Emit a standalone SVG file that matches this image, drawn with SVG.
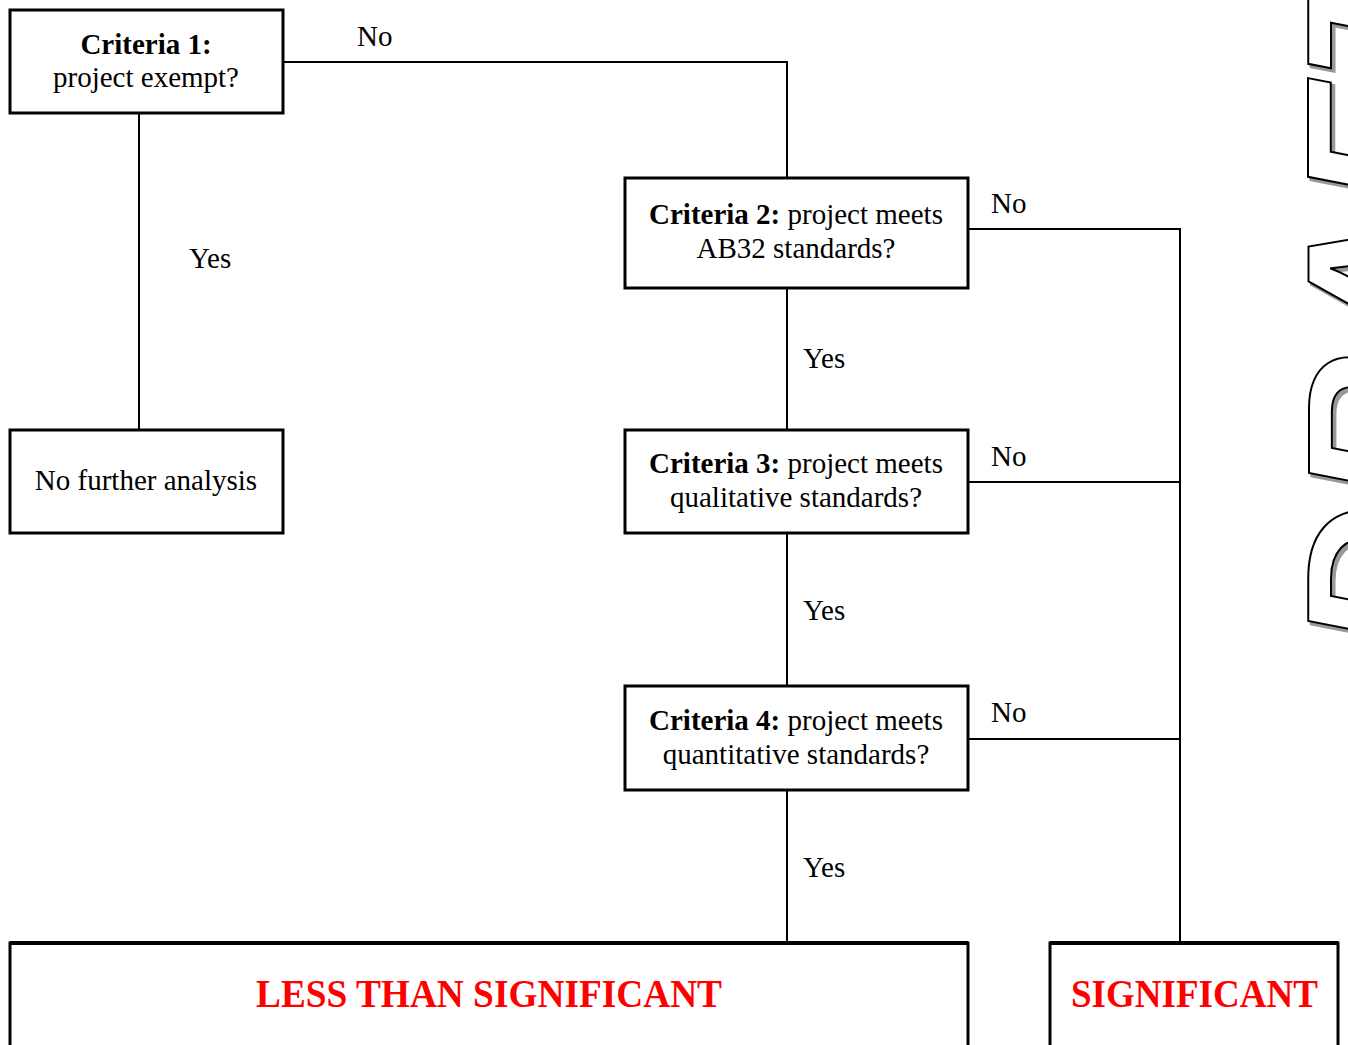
<svg xmlns="http://www.w3.org/2000/svg" width="1348" height="1045" viewBox="0 0 1348 1045">
<style>
.box{fill:#fff;stroke:#000;stroke-width:3}
.t{font-family:"Liberation Serif","Times New Roman",serif;font-size:29px;fill:#000}
.b{font-weight:bold}
.c{fill:none;stroke:#000;stroke-width:2}
.red{font-family:"Liberation Serif","Times New Roman",serif;font-weight:bold;font-size:40px;fill:#ff0000}
.wm{font-family:"Liberation Sans",Arial,sans-serif;font-weight:bold;font-style:italic;font-size:205px}
</style>
<rect width="1348" height="1045" fill="#fff"/>
<g id="watermark">
<text class="wm" transform="translate(1452,655) rotate(-90)" fill="#999" stroke="#999" stroke-width="3">DRAFT</text>
<text class="wm" transform="translate(1449,652) rotate(-90)" fill="#fff" stroke="#000" stroke-width="2">DRAFT</text>
</g>
<g id="connectors">
<polyline class="c" points="283,62 787,62 787,178"/>
<line class="c" x1="139" y1="113" x2="139" y2="430"/>
<line class="c" x1="787" y1="288" x2="787" y2="430"/>
<line class="c" x1="787" y1="533" x2="787" y2="686"/>
<line class="c" x1="787" y1="790" x2="787" y2="942"/>
<polyline class="c" points="968,229 1180,229 1180,942"/>
<line class="c" x1="968" y1="482" x2="1180" y2="482"/>
<line class="c" x1="968" y1="739" x2="1180" y2="739"/>
<text class="t" x="357" y="46">No</text>
<text class="t" x="189" y="268">Yes</text>
<text class="t" x="991" y="213">No</text>
<text class="t" x="803" y="368">Yes</text>
<text class="t" x="991" y="466">No</text>
<text class="t" x="803" y="620">Yes</text>
<text class="t" x="991" y="722">No</text>
<text class="t" x="803" y="877">Yes</text>
</g>
<g id="c1">
<rect class="box" x="10" y="10" width="273" height="103"/>
<text class="t b" x="146" y="54" text-anchor="middle">Criteria 1:</text>
<text class="t" x="146" y="87" text-anchor="middle">project exempt?</text>
</g>
<g id="nofurther">
<rect class="box" x="10" y="430" width="273" height="103"/>
<text class="t" x="146" y="490" text-anchor="middle">No further analysis</text>
</g>
<g id="c2">
<rect class="box" x="625" y="178" width="343" height="110"/>
<text class="t" x="796" y="224" text-anchor="middle"><tspan class="b">Criteria 2:</tspan> project meets</text>
<text class="t" x="796" y="258" text-anchor="middle">AB32 standards?</text>
</g>
<g id="c3">
<rect class="box" x="625" y="430" width="343" height="103"/>
<text class="t" x="796" y="473" text-anchor="middle"><tspan class="b">Criteria 3:</tspan> project meets</text>
<text class="t" x="796" y="507" text-anchor="middle">qualitative standards?</text>
</g>
<g id="c4">
<rect class="box" x="625" y="686" width="343" height="104"/>
<text class="t" x="796" y="730" text-anchor="middle"><tspan class="b">Criteria 4:</tspan> project meets</text>
<text class="t" x="796" y="764" text-anchor="middle">quantitative standards?</text>
</g>
<g id="less">
<rect class="box" x="10" y="943" width="958" height="120"/>
<line x1="10" y1="943" x2="968" y2="943" stroke="#000" stroke-width="4"/>
<text class="red" x="256" y="1007" textLength="466" lengthAdjust="spacingAndGlyphs">LESS THAN SIGNIFICANT</text>
</g>
<g id="sig">
<rect class="box" x="1050" y="943" width="288" height="120"/>
<line x1="1050" y1="943" x2="1338" y2="943" stroke="#000" stroke-width="4"/>
<text class="red" x="1071" y="1007" textLength="247" lengthAdjust="spacingAndGlyphs">SIGNIFICANT</text>
</g>
</svg>
